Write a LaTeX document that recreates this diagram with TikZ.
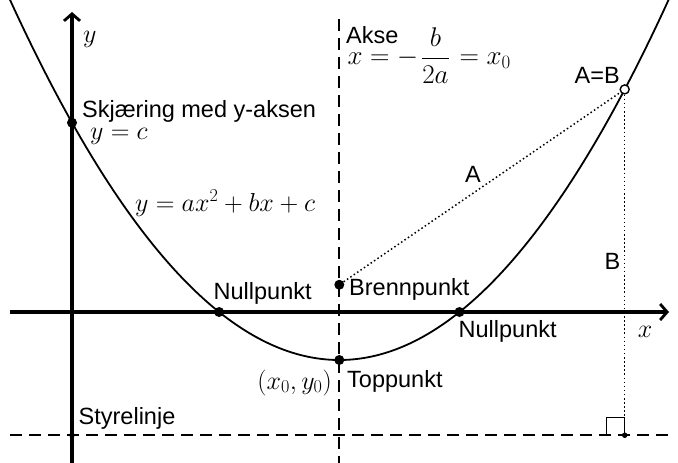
\RequirePackage{fix-cm}
\documentclass[tikz,border=0pt]{standalone}
\usepackage{fontspec}
\newfontfamily\lblfont{Liberation Sans}
\usetikzlibrary{arrows.meta}
\begin{document}
\begin{tikzpicture}[x=10pt,y=-10pt,
  txt/.style={font=\lblfont\fontsize{23.5}{28}\selectfont, inner sep=0pt},
  mth/.style={font=\fontsize{26}{31}\selectfont, inner sep=0pt},
  bigmth/.style={font=\fontsize{27}{32}\selectfont, inner sep=0pt},
  axisline/.style={line width=3.2pt, -{Straight Barb[length=7pt,width=16pt,line width=2.8pt]}},
  dashline/.style={line width=1.7pt, dash pattern=on 12pt off 7pt},
  dotline/.style={line width=1.5pt, dash pattern=on 1.5pt off 2.6pt},
  curve/.style={line width=1.8pt},
  bigdot/.style={circle, fill=black, inner sep=0pt, minimum size=10pt},
  smalldot/.style={circle, fill=black, inner sep=0pt, minimum size=5.5pt},
  opendot/.style={circle, draw=black, fill=white, line width=1.4pt, inner sep=0pt, minimum size=9pt},
  rightangle/.style={line width=1.4pt}]
\useasboundingbox (0,0) rectangle (67.8,46.3);
% key coordinates
\coordinate (xs) at (1.0,31.2);
\coordinate (xe) at (66.9,31.2);
\coordinate (ys) at (7.2,46.3);
\coordinate (ye) at (7.2,1.2);
\coordinate (as) at (33.93,1.9);
\coordinate (ae) at (33.93,46.3);
\coordinate (ds) at (1.0,43.525);
\coordinate (de) at (66.8,43.525);
% directrix and symmetry axis
\draw[dashline] (ds) -- (de);
\draw[dashline] (as) -- (ae);
% axes
\draw[axisline] (xs) -- (xe);
\draw[axisline] (ys) -- (ye);
% parabola
\begin{scope}
\clip (0,0) rectangle (67.8,46.3);
\draw[curve] plot[domain=0.6:67.3, samples=160, smooth] (\x,{36.0-0.03322*(\x-33.93)*(\x-33.93)});
\end{scope}
% points
\node[bigdot] (C) at (7.2,12.27) {};
\node[bigdot] (Z1) at (21.91,31.2) {};
\node[bigdot] (Z2) at (45.95,31.2) {};
\node[bigdot] (V) at (33.93,36.0) {};
\node[bigdot] (F) at (33.93,28.475) {};
\node[smalldot] (S) at (7.2,43.525) {};
\node[smalldot] (D) at (62.47,43.525) {};
\node[opendot] (P) at (62.47,8.94) {};
% distances
\draw[dotline] (F) -- (P);
\draw[dotline] (P) -- (D);
\draw[rightangle] (D.center) ++(-1.8,0) -- ++(0,-1.75) -- ++(1.8,0) -- (D.center);
% labels
\node[mth, anchor=base west] (ylab) at (8.3,4.2) {$y$};
\node[mth, anchor=base] (xlab) at (64.5,33.7) {$x$};
\node[txt, anchor=base west] (skj) at (8.2,11.7) {Skjæring med y-aksen};
\node[mth, anchor=base west] (yc) at (9.0,13.9) {$y=c$};
\node[mth, anchor=base west] (eq) at (13.5,21.1) {$y=ax^2+bx+c$};
\node[txt, anchor=base west] (akse) at (34.6,4.3) {Akse};
\node[bigmth, anchor=base west] (axeq) at (34.75,6.45) {$x=-\mkern2mu\displaystyle\frac{b}{2a}\mkern1.5mu=x_0$};
\node[txt, anchor=base east] (ab) at (62.0,8.3) {A=B};
\node[txt, anchor=base] (la) at (47.3,18.2) {A};
\node[txt, anchor=base] (lb) at (61.25,26.9) {B};
\node[txt, anchor=base west] (brenn) at (34.9,29.5) {Brennpunkt};
\node[txt, anchor=base west] (null2) at (45.85,33.7) {Nullpunkt};
\node[txt, anchor=base west] (null1) at (21.35,29.9) {Nullpunkt};
\node[txt, anchor=base west] (topp) at (34.7,38.7) {Toppunkt};
\node[mth, anchor=base east] (v0) at (33.2,38.9) {$(x_0,y_0)$};
\node[txt, anchor=base west] (styr) at (7.85,42.4) {Styrelinje};
\end{tikzpicture}
\end{document}
